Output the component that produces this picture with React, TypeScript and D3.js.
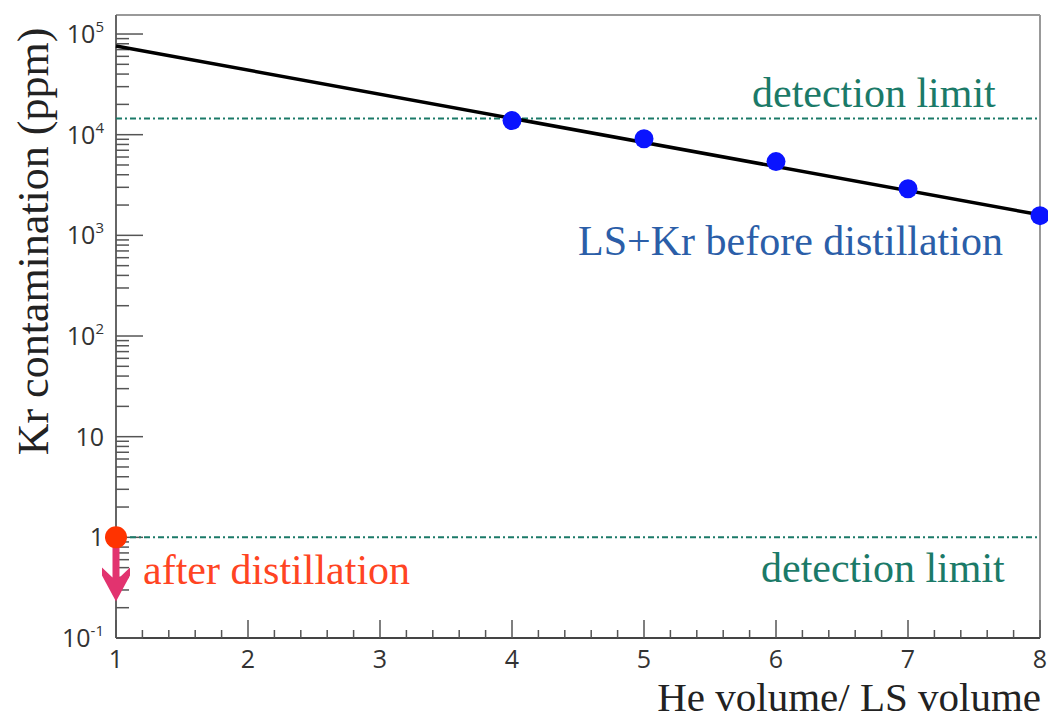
import { useMemo } from "react";
import { scaleLinear, scaleLog, range } from "d3";

// values
const ratio = [4, 5, 6, 7, 8];
const krBefore = [13800, 9100, 5400, 2900, 1570];
const fitEnds = [1, 8];
const fitValues = [76000, 1600];
const detectionLimits = [14500, 1];
const afterX = 1;
const afterValue = 1;
const arrowTo = 0.23;
const xTicks = [1, 2, 3, 4, 5, 6, 7, 8];
const yExps = [-1, 0, 1, 2, 3, 4, 5];

const W = 1048;
const H = 719;
const margin = { left: 116, right: 8, top: 15, bottom: 81 };
const serif = "'Liberation Serif', 'Times New Roman', serif";
const sans = "'Open Sans', 'Noto Sans', sans-serif";

function YLabel({ e, x, y }: { e: number; x: number; y: number }) {
  if (e === 0) return <text x={x} y={y + 9} textAnchor="end" fontSize={25} fill="#333" fontFamily={sans}>1</text>;
  if (e === 1) return <text x={x} y={y + 9} textAnchor="end" fontSize={25} fill="#333" fontFamily={sans}>10</text>;
  return (
    <text x={x} y={y + 9} textAnchor="end" fontSize={25} fill="#333" fontFamily={sans}>
      10<tspan fontSize={15} dy={-11}>{e}</tspan>
    </text>
  );
}

export default function App() {
  const x = useMemo(
    () => scaleLinear().domain([1, 8]).range([margin.left, W - margin.right]),
    []
  );
  const y = useMemo(
    () => scaleLog().domain([0.1, 1.545e5]).range([H - margin.bottom, margin.top]),
    []
  );
  const x0 = x.range()[0];
  const x1 = x.range()[1];
  const y0 = y.range()[0];
  const y1 = y.range()[1];

  const minorY: number[] = [];
  yExps.forEach((e) => {
    range(2, 10).forEach((m) => {
      const v = m * Math.pow(10, e);
      if (v <= y.domain()[1]) minorY.push(v);
    });
  });
  const minorX = range(1, 8.001, 0.2).filter((v) => Math.abs(v - Math.round(v)) > 0.01);

  const ax = x(afterX);
  const aTop = y(afterValue) + 4;
  const aEnd = y(arrowTo);
  const headTop = aEnd - 34;

  return (
    <svg width={W} height={H} style={{ position: "absolute", left: 0, top: 0, background: "#fff" }}>
      {/* frame */}
      <line x1={x0} x2={x1} y1={y1} y2={y1} stroke="#999" strokeWidth={2} />
      <line x1={x1} x2={x1} y1={y1} y2={y0} stroke="#999" strokeWidth={2} />
      <line x1={x0} x2={x0} y1={y1} y2={y0} stroke="#666" strokeWidth={2} />
      <line x1={x0} x2={x1} y1={y0} y2={y0} stroke="#444" strokeWidth={2} />

      {/* y ticks */}
      {yExps.map((e) => {
        const yy = y(Math.pow(10, e));
        return (
          <g key={"ym" + e}>
            <line x1={x0} x2={x0 + 27} y1={yy} y2={yy} stroke="#555" strokeWidth={1.5} />
            <YLabel e={e} x={104} y={yy} />
          </g>
        );
      })}
      {minorY.map((v) => (
        <line key={"yn" + v} x1={x0} x2={x0 + 13} y1={y(v)} y2={y(v)} stroke="#555" strokeWidth={1.5} />
      ))}

      {/* x ticks */}
      {xTicks.map((t) => (
        <g key={"xm" + t}>
          <line x1={x(t)} x2={x(t)} y1={y0} y2={y0 - 18} stroke="#555" strokeWidth={1.5} />
          <text x={x(t)} y={y0 + 30} textAnchor="middle" fontSize={25} fill="#333" fontFamily={sans}>
            {t}
          </text>
        </g>
      ))}
      {minorX.map((v) => (
        <line key={"xn" + v} x1={x(v)} x2={x(v)} y1={y0} y2={y0 - 8} stroke="#555" strokeWidth={1.5} />
      ))}

      {/* detection limits */}
      {detectionLimits.map((d) => (
        <line
          key={"dl" + d}
          x1={x0}
          x2={x1}
          y1={y(d)}
          y2={y(d)}
          stroke="#1b7a68"
          strokeWidth={2}
          strokeDasharray="6,3,2,3"
        />
      ))}

      {/* fit line */}
      <line
        x1={x(fitEnds[0])}
        y1={y(fitValues[0])}
        x2={x(fitEnds[1])}
        y2={y(fitValues[1])}
        stroke="#000"
        strokeWidth={3.5}
      />

      {/* before distillation */}
      {ratio.map((r, i) => (
        <circle key={"p" + r} cx={x(r)} cy={y(krBefore[i])} r={9.5} fill="#0a14ff" />
      ))}

      {/* after distillation upper limit */}
      <path
        d={`M${ax - 3.5},${aTop} L${ax + 3.5},${aTop} L${ax + 3.5},${headTop + 10} L${ax + 14},${headTop} L${ax + 14},${headTop + 8} L${ax},${aEnd} L${ax - 14},${headTop + 8} L${ax - 14},${headTop} L${ax - 3.5},${headTop + 10} Z`}
        fill="#e2336f"
      />
      <circle cx={ax} cy={y(afterValue)} r={11} fill="#ff3300" />

      {/* annotations */}
      <text x={752} y={107} fontSize={42} fill="#1b7a68" fontFamily={serif}>detection limit</text>
      <text x={761} y={582} fontSize={42} fill="#1b7a68" fontFamily={serif}>detection limit</text>
      <text x={578} y={255} fontSize={42} fill="#2b5ea8" fontFamily={serif}>LS+Kr before distillation</text>
      <text x={143} y={584} fontSize={42} fill="#ff4422" fontFamily={serif}>after distillation</text>

      {/* axis titles */}
      <text x={1041} y={711} textAnchor="end" fontSize={41} fill="#222" fontFamily={serif}>
        He volume/ LS volume
      </text>
      <text
        transform={`translate(48, ${(20 + 463) / 2}) rotate(-90)`}
        textAnchor="middle"
        fontSize={44}
        fill="#222"
        fontFamily={serif}
      >
        Kr contamination (ppm)
      </text>
    </svg>
  );
}
